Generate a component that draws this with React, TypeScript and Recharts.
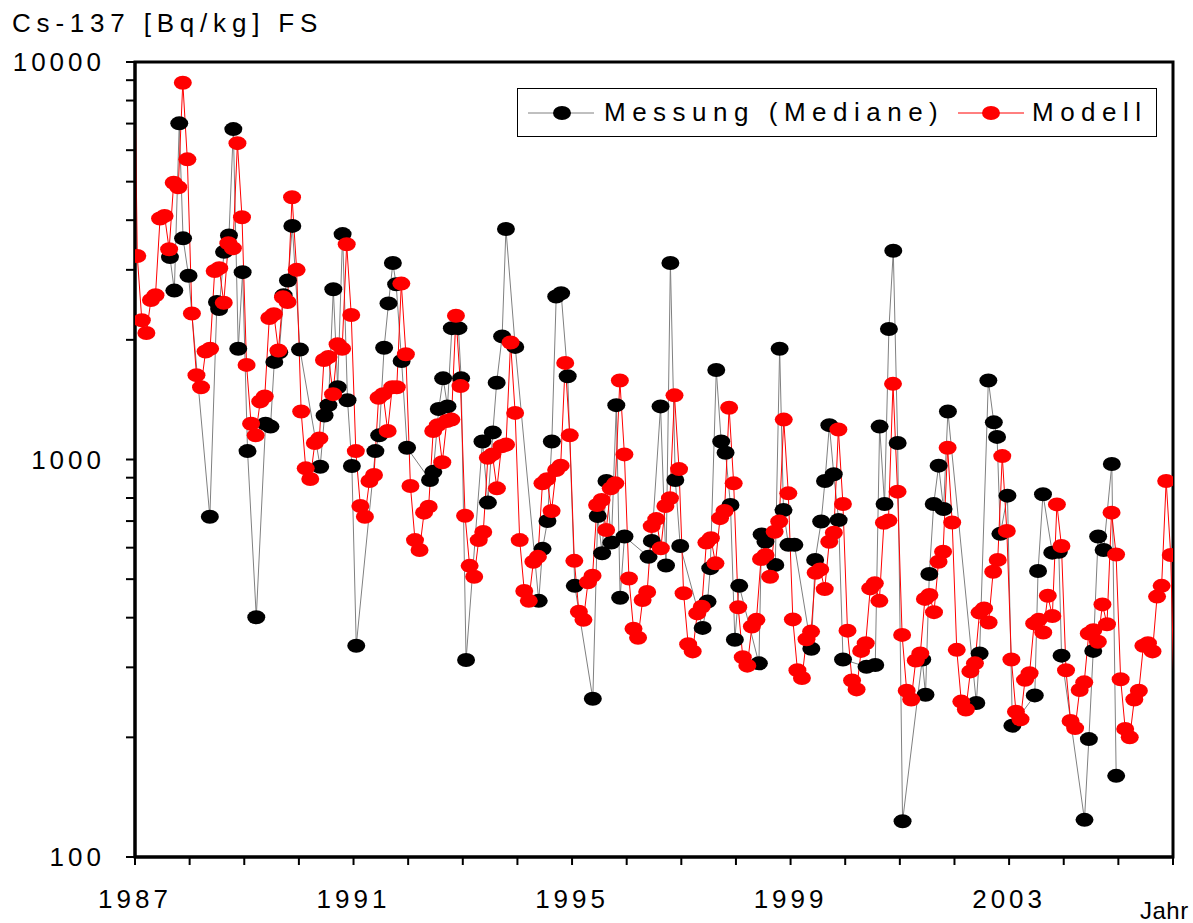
import React from "react";
import { LineChart, Line, XAxis, YAxis, ReferenceArea } from "recharts";

const FONT = "Arial, 'Liberation Sans', sans-serif";

const yearTicks = [1987, 1988, 1989, 1990, 1991, 1992, 1993, 1994, 1995, 1996, 1997, 1998, 1999, 2000, 2001, 2002, 2003, 2004, 2005, 2006];
const labelledYears = [1987, 1991, 1995, 1999, 2003];
const valueTicks = [100, 200, 300, 400, 500, 600, 700, 800, 900, 1000, 2000, 3000, 4000, 5000, 6000, 7000, 8000, 9000, 10000];
const labelledValues = [100, 1000, 10000];

// Modell: one value per month, December 1986 to January 2006
const modelFirstMonth = { year: 1986, month: 11 };
const modelValues = [
  25000,
  3250, 2240, 2080, 2520, 2590, 4040, 4100, 3380, 4970, 4840, 8870, 5690,
  2330, 1630, 1520, 1870, 1900, 2980, 3030, 2480, 3500, 3400, 6250, 4070,
  1730, 1230, 1150, 1400, 1440, 2270, 2320, 1880, 2560, 2490, 4570, 3000,
  1320, 950, 893, 1100, 1130, 1780, 1810, 1460, 1950, 1900, 3480, 2310,
  1050, 764, 718, 883, 914, 1430, 1460, 1180, 1520, 1520, 2770, 1840,
  858, 627, 592, 735, 761, 1180, 1220, 984, 1250, 1260, 2300, 1530,
  722, 540, 507, 627, 657, 1010, 1030, 846, 1080, 1090, 1970, 1310,
  627, 467, 441, 553, 569, 871, 892, 742, 941, 965, 1750, 1150,
  556, 414, 395, 491, 510, 768, 791, 665, 846, 871, 1580, 1030,
  502, 375, 356, 443, 464, 680, 708, 598, 764, 799, 1450, 946,
  461, 343, 329, 410, 426, 618, 634, 548, 712, 742, 1350, 871,
  425, 318, 303, 380, 395, 562, 575, 507, 658, 698, 1260, 822,
  396, 295, 282, 353, 369, 519, 529, 472, 621, 654, 1190, 773,
  371, 278, 264, 330, 345, 474, 488, 441, 693, 702, 1550, 830,
  362, 262, 249, 312, 325, 446, 456, 413, 553, 586, 1070, 694,
  332, 246, 235, 293, 307, 412, 422, 389, 522, 559, 1020, 661,
  314, 232, 222, 279, 290, 387, 395, 367, 454, 404, 771, 606,
  295, 220, 211, 263, 275, 365, 372, 348, 432, 385, 735, 577,
  280, 210, 200, 249, 262, 340, 345, 329, 452, 481, 883, 575,
  190,
];

// Messung (Mediane)
const messTimes = [
  1987.64, 1987.72, 1987.81, 1987.88, 1987.98,
  1988.37, 1988.50, 1988.54, 1988.63, 1988.72, 1988.80, 1988.89, 1988.97,
  1989.06, 1989.22, 1989.39, 1989.48, 1989.55, 1989.64, 1989.72, 1989.80, 1989.88,
  1990.02, 1990.39, 1990.47, 1990.54, 1990.63, 1990.71, 1990.80, 1990.89, 1990.97,
  1991.05, 1991.40, 1991.47, 1991.56, 1991.64, 1991.72, 1991.78, 1991.88, 1991.98,
  1992.40, 1992.46, 1992.56, 1992.64, 1992.72, 1992.80, 1992.92, 1992.97,
  1993.06, 1993.36, 1993.46, 1993.55, 1993.62, 1993.72, 1993.79, 1993.96,
  1994.39, 1994.46, 1994.55, 1994.63, 1994.71, 1994.80, 1994.92,
  1995.05, 1995.38, 1995.47, 1995.55, 1995.63, 1995.72, 1995.81, 1995.88, 1995.96,
  1996.40, 1996.46, 1996.62, 1996.72, 1996.80, 1996.89, 1996.98,
  1997.39, 1997.48, 1997.53, 1997.64, 1997.73, 1997.81, 1997.90, 1997.98,
  1998.06, 1998.42, 1998.47, 1998.54, 1998.72, 1998.80, 1998.87, 1998.96,
  1999.07, 1999.38, 1999.45, 1999.56, 1999.63, 1999.71, 1999.79, 1999.88, 1999.96,
  2000.39, 2000.55, 2000.63, 2000.72, 2000.80, 2000.88, 2000.96,
  2001.05, 2001.41, 2001.47, 2001.54, 2001.62, 2001.71, 2001.80, 2001.88,
  2002.40, 2002.46, 2002.62, 2002.72, 2002.78, 2002.84, 2002.97,
  2003.06, 2003.47, 2003.53, 2003.62, 2003.79, 2003.91, 2003.96,
  2004.38, 2004.46, 2004.54, 2004.63, 2004.73, 2004.88, 2004.96,
];
const messValues = [
  3230, 2660, 7010, 3600, 2900,
  718, 2490, 2390, 3330, 3660, 6780, 1900, 2960,
  1050, 401, 1230, 1210, 1760, 1860, 2590, 2820, 3870,
  1890, 959, 1290, 1370, 2680, 1520, 3690, 1410, 963,
  340, 1050, 1150, 1910, 2470, 3120, 2760, 1770, 1070,
  888, 931, 1340, 1600, 1360, 2140, 2140, 1600,
  313, 1110, 779, 1170, 1560, 2040, 3800, 1920,
  441, 596, 700, 1110, 2570, 2620, 1620,
  481, 250, 721, 581, 883, 618, 1370, 449, 640,
  569, 624, 1360, 541, 3120, 888, 606,
  377, 439, 533, 1680, 1110, 1040, 768, 352,
  481, 307, 648, 621, 543, 1900, 746, 610,
  610, 334, 559, 698, 883, 1220, 918, 704, 314,
  301, 304, 1210, 773, 2130, 3350, 1100,
  123, 314, 256, 515, 773, 965, 751, 1320,
  244, 325, 1580, 1240, 1140, 650, 811,
  214, 255, 524, 818, 583, 586, 321,
  124, 198, 330, 640, 592, 974, 160,
];

const modelData = modelValues.map((v, i) => ({
  t: modelFirstMonth.year + (modelFirstMonth.month + i + 0.5) / 12,
  v,
}));
const messData = messTimes.map((t, i) => ({ t, v: messValues[i] }));

const X_DOMAIN = [1987, 2006];

function makeDot(color: string) {
  return (props: any) => {
    const { cx, cy, payload, index } = props;
    if (payload.t < X_DOMAIN[0] || payload.t > X_DOMAIN[1] || payload.v > 10000) {
      return <g key={`d-${color}-${index}`} />;
    }
    return <ellipse key={`d-${color}-${index}`} cx={cx} cy={cy} rx={9} ry={7} fill={color} />;
  };
}

function YTick(props: any) {
  const { x, y, payload } = props;
  if (!labelledValues.includes(payload.value)) return <g />;
  return (
    <text x={x} y={y} dy="0.36em" textAnchor="end" fontFamily={FONT} fontSize={26} letterSpacing={4} fill="#000">
      {payload.value}
    </text>
  );
}

function XTick(props: any) {
  const { x, y, payload } = props;
  if (!labelledYears.includes(payload.value)) return <g />;
  return (
    <text x={x} y={y} dy="0.71em" textAnchor="middle" fontFamily={FONT} fontSize={26} letterSpacing={4} fill="#000">
      {payload.value}
    </text>
  );
}

function LegendBox() {
  const text = { position: "absolute" as const, top: 8, fontFamily: FONT, fontSize: 26, letterSpacing: 6.5, lineHeight: "30px", whiteSpace: "nowrap" as const };
  return (
    <div style={{ position: "absolute", left: 517, top: 88, width: 640, height: 49, border: "1px solid #000", background: "#fff", boxSizing: "border-box" }}>
      <svg width={640} height={49} style={{ position: "absolute", left: 0, top: 0 }}>
        <line x1={10} x2={76} y1={24} y2={24} stroke="#808080" strokeWidth={1} />
        <ellipse cx={44} cy={24} rx={9} ry={7} fill="#000" />
        <line x1={440} x2={506} y1={24} y2={24} stroke="#ff0000" strokeWidth={1} />
        <ellipse cx={473} cy={24} rx={9} ry={7} fill="#ff0000" />
      </svg>
      <span style={{ ...text, left: 86 }}>Messung (Mediane)</span>
      <span style={{ ...text, left: 514 }}>Modell</span>
    </div>
  );
}

export default function App() {
  return (
    <div style={{ position: "absolute", left: 0, top: 0, width: 1193, height: 923, background: "#fff", overflow: "hidden" }}>
      <div style={{ position: "absolute", left: 12, top: 8, fontFamily: FONT, fontSize: 26, letterSpacing: 5.8, whiteSpace: "nowrap" }}>
        Cs-137 [Bq/kg] FS
      </div>
      <LineChart width={1193} height={923} margin={{ top: 62, right: 20, bottom: 0, left: 0 }}>
        <XAxis
          type="number"
          dataKey="t"
          domain={X_DOMAIN}
          ticks={yearTicks}
          allowDataOverflow
          interval={0}
          height={66}
          axisLine={{ stroke: "#000", strokeWidth: 3 }}
          tickLine={{ stroke: "#000", strokeWidth: 2 }}
          tickSize={8}
          tickMargin={25}
          tick={<XTick />}
        />
        <YAxis
          type="number"
          dataKey="v"
          scale="log"
          domain={[100, 10000]}
          ticks={valueTicks}
          allowDataOverflow
          interval={0}
          width={135}
          axisLine={{ stroke: "#000", strokeWidth: 3 }}
          tickLine={{ stroke: "#000", strokeWidth: 2 }}
          tickSize={9}
          tickMargin={21}
          tick={<YTick />}
        />
        <ReferenceArea x1={1987} x2={2006} y1={100} y2={10000} fill="none" stroke="#000" strokeWidth={3} />
        <Line
          data={messData}
          dataKey="v"
          name="Messung (Mediane)"
          stroke="#808080"
          strokeWidth={1}
          dot={makeDot("#000")}
          activeDot={false}
          isAnimationActive={false}
        />
        <Line
          data={modelData}
          dataKey="v"
          name="Modell"
          stroke="#ff0000"
          strokeWidth={1}
          dot={makeDot("#ff0000")}
          activeDot={false}
          isAnimationActive={false}
        />
      </LineChart>
      <LegendBox />
      <div style={{ position: "absolute", left: 1140, top: 897, fontFamily: FONT, fontSize: 24, letterSpacing: 0.5, whiteSpace: "nowrap" }}>
        Jahr
      </div>
    </div>
  );
}
